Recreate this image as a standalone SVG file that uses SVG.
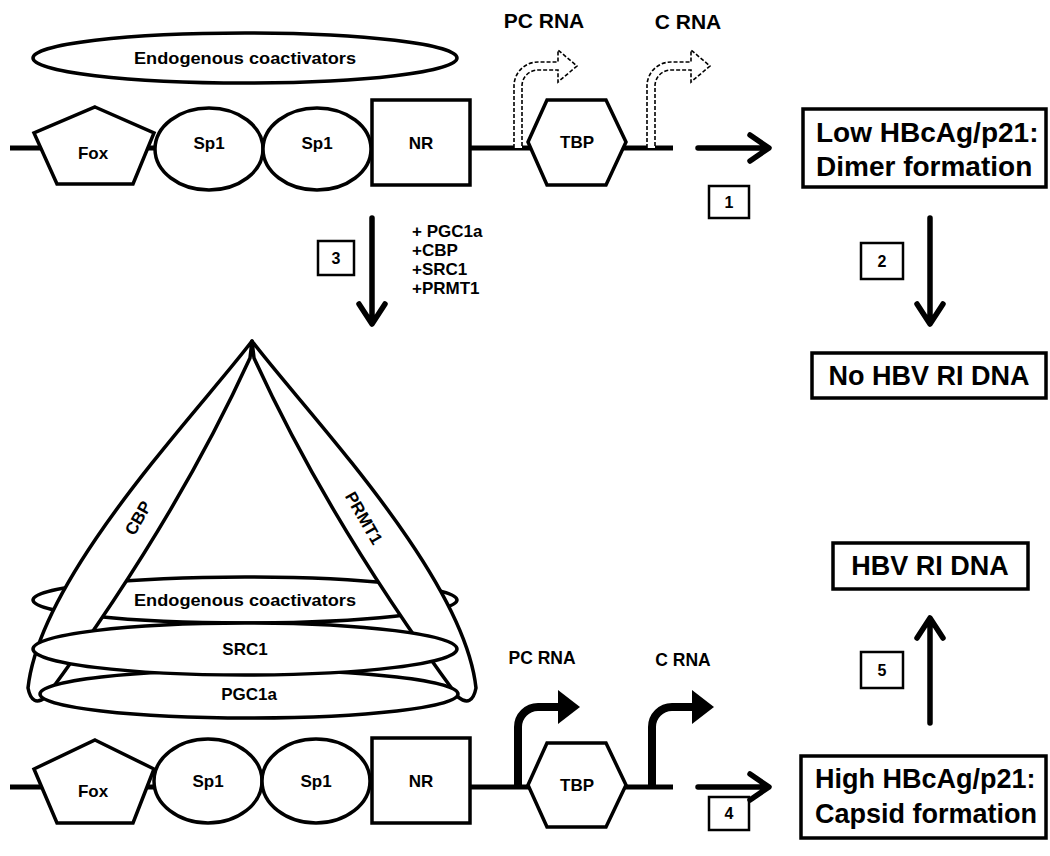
<svg xmlns="http://www.w3.org/2000/svg" width="1050" height="856" viewBox="0 0 1050 856">
<style>
text{font-family:"Liberation Sans",Arial,sans-serif;font-weight:bold;fill:#000}
.s{fill:#fff;stroke:#000;stroke-width:3.5;stroke-linejoin:miter}
.band{fill:#fff;stroke:#000;stroke-width:3.5;stroke-linejoin:round}
.lbl{font-size:17px;text-anchor:middle}
.big{font-size:27px}
.num{font-size:16px;text-anchor:middle}
.add{font-size:17px}
.dna{fill:none;stroke:#000;stroke-width:5}
.arr{fill:none;stroke:#000;stroke-width:5.5;stroke-linecap:round;stroke-linejoin:round}
.dash{fill:#fff;stroke:#000;stroke-width:1.6;stroke-dasharray:4 2}
.tss{fill:none;stroke:#000;stroke-width:8}
.box{fill:#fff;stroke:#000;stroke-width:3.5}
.nbox{fill:#fff;stroke:#000;stroke-width:2.5}
</style>
<rect width="1050" height="856" fill="#fff"/>

<!-- DNA lines -->
<g id="dna-lines">
<path class="dna" d="M10,148 H673"/>
<path class="dna" d="M10,787 H673"/>
</g>

<!-- top row -->
<g id="endo-top"><ellipse class="s" cx="245" cy="58" rx="212" ry="25"/><text class="lbl" x="245" y="64" textLength="222" lengthAdjust="spacingAndGlyphs">Endogenous coactivators</text></g>
<g id="fox-top"><polygon class="s" points="95,107 154,133 133,184 57,184 34,133"/><text class="lbl" x="93" y="159">Fox</text></g>
<g id="sp1a-top"><ellipse class="s" cx="209" cy="149" rx="54" ry="41"/><text class="lbl" x="209" y="149">Sp1</text></g>
<g id="sp1b-top"><ellipse class="s" cx="317" cy="149" rx="54" ry="41"/><text class="lbl" x="317" y="149">Sp1</text></g>
<g id="nr-top"><rect class="s" x="372" y="100" width="98" height="85"/><text class="lbl" x="421" y="149">NR</text></g>
<g id="tbp-top"><polygon class="s" points="528,142 547,100 606,100 626,142 606,185 547,185"/><text class="lbl" x="577" y="148">TBP</text></g>
<g id="pc-rna-top"><path class="dash" d="M514,148 V86 A24,24 0 0 1 538,62 H558 V50 L577,66 L558,82 V70 H538 A16,16 0 0 0 522,86 V148"/><text x="544" y="28" style="font-size:21px;text-anchor:middle">PC RNA</text></g>
<g id="c-rna-top"><path class="dash" d="M647,148 V86 A24,24 0 0 1 671,62 H691 V50 L710,66 L691,82 V70 H671 A16,16 0 0 0 655,86 V148"/><text x="688" y="29" style="font-size:21px;text-anchor:middle">C RNA</text></g>

<!-- right column -->
<g id="low-box"><rect class="box" x="803" y="109" width="243" height="78"/><text class="big" x="816" y="142" style="font-size:28px">Low HBcAg/p21:</text><text class="big" x="816" y="176" style="font-size:28px">Dimer formation</text></g>
<g id="no-hbv"><rect class="box" x="812" y="353" width="234" height="45"/><text class="big" x="929" y="385" text-anchor="middle">No HBV RI DNA</text></g>
<g id="hbv"><rect class="box" x="833" y="543" width="195" height="46"/><text class="big" x="930" y="575" text-anchor="middle">HBV RI DNA</text></g>
<g id="high-box"><rect class="box" x="801" y="756" width="245" height="82"/><text class="big" x="815" y="788">High HBcAg/p21:</text><text class="big" x="815" y="823">Capsid formation</text></g>

<!-- step numbers -->
<g id="n1"><rect class="nbox" x="709" y="186" width="40" height="32"/><text class="num" x="729" y="208">1</text></g>
<g id="n2"><rect class="nbox" x="861" y="243" width="42" height="36"/><text class="num" x="882" y="267">2</text></g>
<g id="n3"><rect class="nbox" x="318" y="241" width="36" height="34"/><text class="num" x="336" y="264">3</text></g>
<g id="n4"><rect class="nbox" x="709" y="797" width="40" height="33"/><text class="num" x="729" y="819">4</text></g>
<g id="n5"><rect class="nbox" x="861" y="652" width="42" height="36"/><text class="num" x="882" y="676">5</text></g>

<g id="added">
<text class="add" x="412" y="237">+ PGC1a</text>
<text class="add" x="412" y="256">+CBP</text>
<text class="add" x="412" y="275">+SRC1</text>
<text class="add" x="412" y="294">+PRMT1</text>
</g>

<!-- complex -->
<g id="endo-low"><ellipse class="s" cx="245" cy="600" rx="212" ry="23"/><text class="lbl" x="245" y="606" textLength="222" lengthAdjust="spacingAndGlyphs">Endogenous coactivators</text></g>
<g id="cbp"><path class="band" d="M252,341 C200,410 40,575 28,688 Q32,708 46,697 Q175,522 250,358 Z"/><text class="lbl" transform="translate(138,518) rotate(-60)" y="6">CBP</text></g>
<g id="prmt1"><path class="band" d="M252,341 C304,410 464,575 476,688 Q472,708 458,697 Q329,522 254,358 Z"/><text class="lbl" transform="translate(364,518) rotate(60)" y="6">PRMT1</text></g>
<g id="pgc1a"><ellipse class="s" cx="249" cy="694" rx="209" ry="24"/><text class="lbl" x="249" y="700">PGC1a</text></g>
<g id="src1"><ellipse class="s" cx="245" cy="649" rx="212" ry="26"/><text class="lbl" x="245" y="655">SRC1</text></g>

<!-- bottom row -->
<g id="fox-low"><polygon class="s" points="95,740 154,769 133,823 57,823 34,769"/><text class="lbl" x="93" y="797">Fox</text></g>
<g id="sp1a-low"><ellipse class="s" cx="208" cy="781" rx="54" ry="42"/><text class="lbl" x="208" y="787">Sp1</text></g>
<g id="sp1b-low"><ellipse class="s" cx="316" cy="781" rx="54" ry="42"/><text class="lbl" x="316" y="787">Sp1</text></g>
<g id="nr-low"><rect class="s" x="372" y="738" width="98" height="85"/><text class="lbl" x="421" y="787">NR</text></g>
<g id="tbp-low"><polygon class="s" points="528,785 547,743 606,743 626,785 606,827 547,827"/><text class="lbl" x="577" y="791">TBP</text></g>
<g id="pc-rna-low"><path class="tss" d="M518,787 V727 A20,20 0 0 1 538,707 H562"/><polygon points="558,690 580,707 558,724"/><text x="542" y="664" style="font-size:17.5px;text-anchor:middle">PC RNA</text></g>
<g id="c-rna-low"><path class="tss" d="M652,787 V727 A20,20 0 0 1 672,707 H696"/><polygon points="692,690 714,707 692,724"/><text x="683" y="666" style="font-size:17.5px;text-anchor:middle">C RNA</text></g>

<!-- connectors -->
<g id="connectors">
<path class="arr" d="M698,148 H768 M750,135 L769,148 L750,161"/>
<path class="arr" d="M930,218 V323 M917,304 L930,324 L943,304"/>
<path class="arr" d="M372,218 V323 M359,304 L372,324 L385,304"/>
<path class="arr" d="M698,787 H768 M750,774 L769,787 L750,800"/>
<path class="arr" d="M930,723 V619 M917,638 L930,618 L943,638"/>
</g>
</svg>
